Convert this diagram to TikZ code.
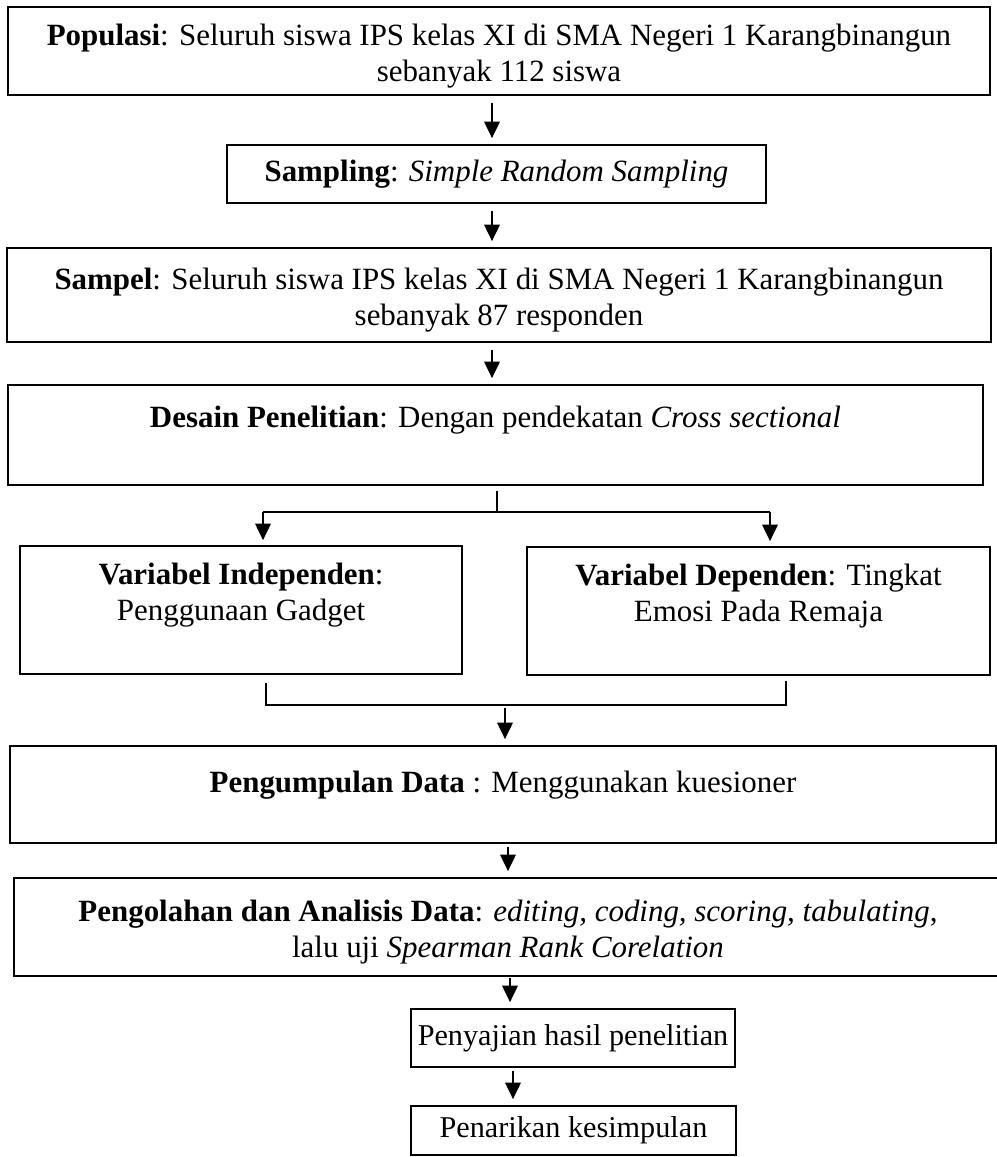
\documentclass[tikz,border=0pt]{standalone}
\usepackage{fontspec}
\setmainfont{Liberation Serif}
\usetikzlibrary{arrows.meta,positioning,calc}
\newcommand{\topgap}{\rule{0pt}{18pt}}

\begin{document}
\begin{tikzpicture}[
    x=0.02cm, y=-0.02cm,
    box/.style={draw=black, line width=1pt, align=center, inner sep=0pt, font={\fontsize{17.6}{20.5}\selectfont}},
    smallbox/.style={box, font={\fontsize{17.2}{20}\selectfont}},
    line/.style={line width=1.1pt, draw=black},
    arrow/.style={-{Triangle[length=3.3mm,width=3.1mm]}, line width=1.1pt, draw=black, shorten <=1.4mm, shorten >=1.2mm}
]
\useasboundingbox (0,0) rectangle (997,1157);
\node[box, minimum width=19.64cm, minimum height=1.76cm] (pop) at (499,51) {\topgap\textbf{Populasi}: Seluruh siswa IPS kelas XI di SMA Negeri 1 Karangbinangun\\sebanyak 112 siswa};
\node[box, minimum width=10.78cm, minimum height=1.16cm] (smpl) at (496.5,174) {\textbf{Sampling}: \textit{Simple Random Sampling}};
\node[box, minimum width=19.68cm, minimum height=1.88cm] (sampel) at (499,295) {\topgap\textbf{Sampel}: Seluruh siswa IPS kelas XI di SMA Negeri 1 Karangbinangun\\sebanyak 87 responden};
\node[box, minimum width=19.5cm, minimum height=2cm] (desain) at (495.5,435) {\textbf{Desain Penelitian}: Dengan pendekatan \textit{Cross sectional}\\ \mbox{}};
\node[box, minimum width=8.84cm, minimum height=2.56cm] (indep) at (241,610) {\textbf{Variabel Independen}:\\Penggunaan Gadget\\ \mbox{}};
\node[box, minimum width=9.26cm, minimum height=2.56cm] (dep) at (758.5,611) {\textbf{Variabel Dependen}: Tingkat\\Emosi Pada Remaja\\ \mbox{}};
\node[box, minimum width=19.72cm, minimum height=1.94cm] (kumpul) at (503,794.5) {\topgap\textbf{Pengumpulan Data} : Menggunakan kuesioner\\ \mbox{}};
\node[box, minimum width=19.76cm, minimum height=1.96cm] (olah) at (508,927) {\topgap\textbf{Pengolahan dan Analisis Data}: \textit{editing, coding, scoring, tabulating},\\lalu uji \textit{Spearman Rank Corelation}};
\node[smallbox, minimum width=6.48cm, minimum height=1.16cm] (saji) at (573,1038) {Penyajian hasil penelitian};
\node[smallbox, minimum width=6.5cm, minimum height=0.98cm] (tarik) at (573.5,1130.5) {Penarikan kesimpulan};

% alur atas
\coordinate (colA) at (492,0);
\draw[arrow] (pop.south -| colA) -- (smpl.north -| colA);
\draw[arrow] (smpl.south -| colA) -- (sampel.north -| colA);
\draw[arrow] (sampel.south -| colA) -- (desain.north -| colA);

% percabangan ke variabel
\coordinate (split) at (497,512);
\coordinate (splitL) at (263,512);
\coordinate (splitR) at (770,512);
\draw[line] ([yshift=-1mm]desain.south -| split) -- (split);
\draw[line] (splitL) -- (splitR);
\draw[arrow, shorten <=0pt, shorten >=1mm] (splitL) -- (splitL |- indep.north);
\draw[arrow, shorten <=0pt, shorten >=1mm] (splitR) -- (splitR |- dep.north);

% penggabungan
\coordinate (mrgL) at (266,683);
\coordinate (mrgR) at (786,681);
\coordinate (mrgBot) at (786,705);
\draw[line] (mrgL) |- (mrgBot) -- (mrgR);
\coordinate (mrgOut) at (505,708);
\draw[arrow, shorten <=0pt] (mrgOut) -- (mrgOut |- kumpul.north);

% alur bawah
\coordinate (colB) at (508,0);
\coordinate (colC) at (510,0);
\coordinate (colD) at (513,0);
\draw[arrow, shorten <=0.6mm] (kumpul.south -| colB) -- (olah.north -| colB);
\draw[arrow, shorten <=0.2mm] (olah.south -| colC) -- (saji.north -| colC);
\draw[arrow, shorten <=0.6mm] (saji.south -| colD) -- (tarik.north -| colD);
\end{tikzpicture}
\end{document}
